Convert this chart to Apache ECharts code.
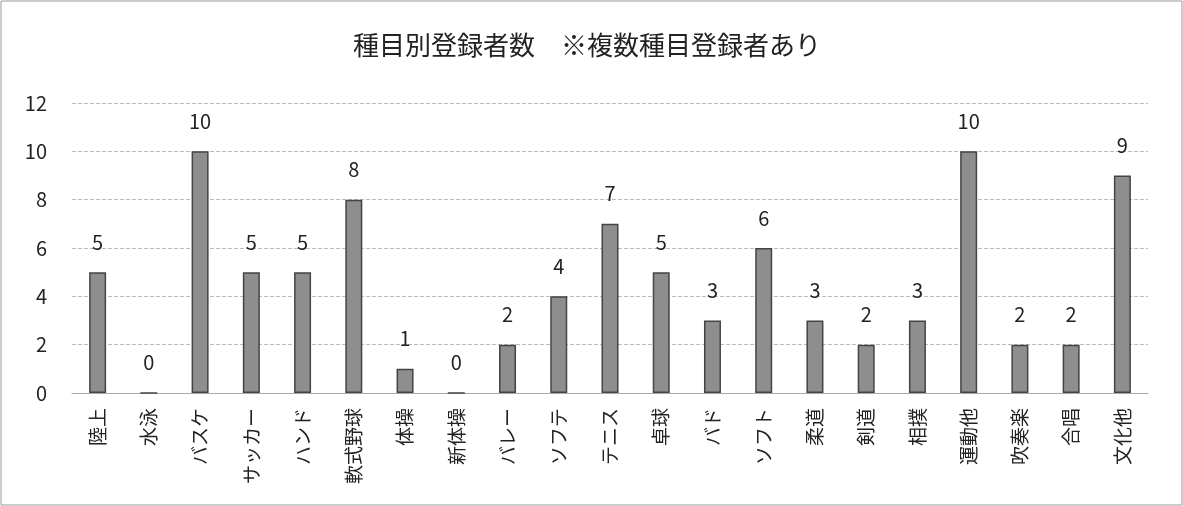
<!DOCTYPE html>
<html><head><meta charset="utf-8">
<script src="https://cdn.jsdelivr.net/npm/echarts@6/dist/echarts.min.js"></script>
<style>html,body{margin:0;padding:0;background:#fff}#c{width:1183px;height:506px}</style>
</head><body><div id="c"></div>
<script>
const titleText = '種目別登録者数　※複数種目登録者あり';
const categories = ['陸上','水泳','バスケ','サッカー','ハンド','軟式野球','体操','新体操','バレー','ソフテ','テニス','卓球','バド','ソフト','柔道','剣道','相撲','運動他','吹奏楽','合唱','文化他'];
const values = [5,0,10,5,5,8,1,0,2,4,7,5,3,6,3,2,3,10,2,2,9];
const yTicks = {min:0, max:12, interval:2};

const chart = echarts.init(document.getElementById('c'));
const font = '"Noto Sans CJK JP","Noto Sans",sans-serif';
chart.setOption({
  backgroundColor:'#fff',
  animation:false,
  title:{text:titleText,left:582,top:27,textAlign:'center',textStyle:{fontFamily:font,fontSize:26,fontWeight:'normal',color:'#222'}},
  grid:{left:72,right:35,top:103,bottom:113},
  xAxis:{type:'category',data:categories,
    axisLine:{show:true,lineStyle:{color:'#aaa',width:1}},
    axisTick:{show:false},
    axisLabel:{interval:0,rotate:90,margin:15,fontFamily:font,fontSize:19,color:'#222'}},
  yAxis:{type:'value',min:yTicks.min,max:yTicks.max,interval:yTicks.interval,
    axisLine:{show:false},axisTick:{show:false},
    axisLabel:{margin:25,fontFamily:font,fontSize:20,color:'#222'},
    splitLine:{lineStyle:{color:'#bbb',width:1,type:'dashed'}}},
  series:[{type:'bar',data:values,barWidth:17,
    itemStyle:{color:'#8e8e8e',borderColor:'#444',borderWidth:1.5},
    label:{show:true,position:'top',distance:20,fontFamily:font,fontSize:20,color:'#222'}}],
  graphic:[{type:'rect',shape:{x:1,y:1,width:1181,height:504},style:{fill:'none',stroke:'#999',lineWidth:1}}]
});
</script></body></html>
